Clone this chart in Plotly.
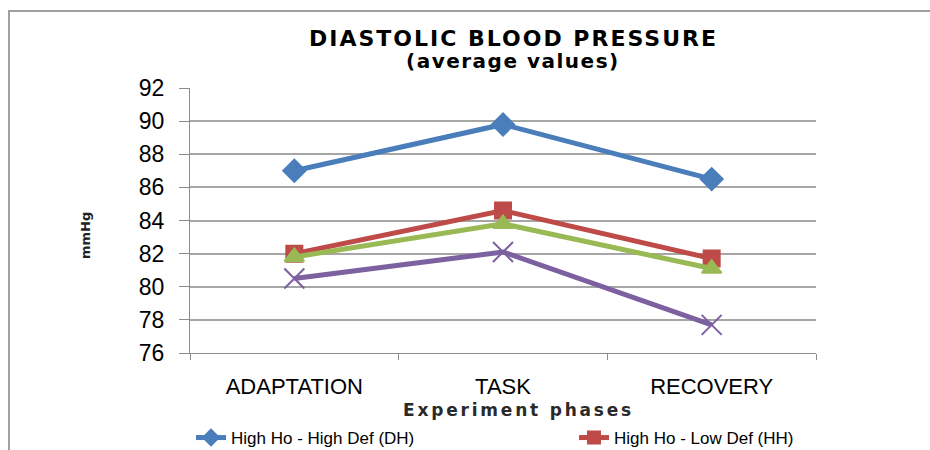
import plotly.graph_objects as go

phases = ["ADAPTATION", "TASK", "RECOVERY"]
dh_values = [87.0, 89.8, 86.5]
hh_values = [82.0, 84.6, 81.7]
dl_values = [81.8, 83.8, 81.1]
ll_values = [80.5, 82.1, 77.7]
y_ticks = [76, 78, 80, 82, 84, 86, 88, 90, 92]

series = [
    ("High Ho - High Def (DH)", dh_values, "#4A7EBB", "diamond", 17, "legend"),
    ("High Ho - Low Def (HH)", hh_values, "#BE4B48", "square", 16, "legend2"),
    ("Low Ho - High Def (DL)", dl_values, "#98B954", "triangle-up", 17, None),
    ("Low Ho - Low Def (LL)", ll_values, "#7D60A0", "x-thin-open", 20, None),
]

fig = go.Figure()
for name, vals, color, sym, size, leg in series:
    fig.add_trace(go.Scatter(
        x=phases, y=vals, name=name, mode="lines+markers",
        line=dict(color=color, width=5),
        marker=dict(symbol=sym, size=size, color=color,
                    line=dict(color=color, width=2)),
        showlegend=leg is not None, legend=leg or "legend", cliponaxis=False,
    ))

W, H = 930, 450
L, R, T, B = 190, 114, 88, 97
pw, ph = W - L - R, H - T - B

def px(x):
    return (x - L) / pw

def py(y):
    return (H - B - y) / ph

leg_font = dict(family="Liberation Sans, Arial", size=17, color="#000000")

fig.update_layout(
    width=W, height=H,
    margin=dict(l=L, r=R, t=T, b=B, autoexpand=False),
    paper_bgcolor="white", plot_bgcolor="white",
    font=dict(family="Liberation Sans, Arial", color="#000000"),
    showlegend=True,
    legend=dict(orientation="h", x=px(191), xanchor="left", y=py(438), yanchor="middle",
                font=leg_font, bgcolor="rgba(0,0,0,0)", itemsizing="constant"),
    legend2=dict(orientation="h", x=px(574), xanchor="left", y=py(438), yanchor="middle",
                 font=leg_font, bgcolor="rgba(0,0,0,0)", itemsizing="constant"),
    xaxis=dict(type="category", range=[-0.5, 2.5], showgrid=False,
               showline=True, linecolor="#8c8c8c", linewidth=1,
               ticks="outside", tickson="boundaries", ticklen=6, tickcolor="#8c8c8c",
               tickfont=dict(family="Liberation Sans, Arial", size=22, color="#000000"),
               ticklabelstandoff=14, zeroline=False),
    yaxis=dict(range=[76, 92], tickvals=y_ticks, showgrid=True, gridcolor="#a6a6a6", gridwidth=2,
               showline=True, linecolor="#8c8c8c", linewidth=1,
               ticks="outside", ticklen=10, tickcolor="#8c8c8c",
               tickfont=dict(family="Liberation Sans, Arial", size=23, color="#000000"),
               ticklabelstandoff=10, zeroline=False),
    shapes=[dict(type="rect", xref="paper", yref="paper",
                 x0=px(9), x1=px(960), y0=py(480), y1=py(11),
                 line=dict(color="#a0a0a0", width=2), layer="below")],
    annotations=[
        dict(text="<span style='letter-spacing:2px'><b>DIASTOLIC BLOOD PRESSURE</b></span>",
             xref="paper", yref="paper",
             x=px(513), y=py(38), showarrow=False, xanchor="center", yanchor="middle",
             font=dict(family="DejaVu Sans", size=22, color="#000000")),
        dict(text="<span style='letter-spacing:1.5px'><b>(average values)</b></span>",
             xref="paper", yref="paper",
             x=px(513), y=py(61), showarrow=False, xanchor="center", yanchor="middle",
             font=dict(family="DejaVu Sans", size=20, color="#000000")),
        dict(text="<span style='letter-spacing:2.8px'><b>Experiment phases</b></span>",
             xref="paper", yref="paper",
             x=px(518), y=py(410), showarrow=False, xanchor="center", yanchor="middle",
             font=dict(family="DejaVu Sans", size=17, color="#2a2a2a")),
        dict(text="<b>mmHg</b>", xref="paper", yref="paper", textangle=-90,
             x=px(85), y=py(235), showarrow=False, xanchor="center", yanchor="middle",
             font=dict(family="DejaVu Sans", size=13, color="#222222")),
    ],
)

fig.write_html("out.html")
